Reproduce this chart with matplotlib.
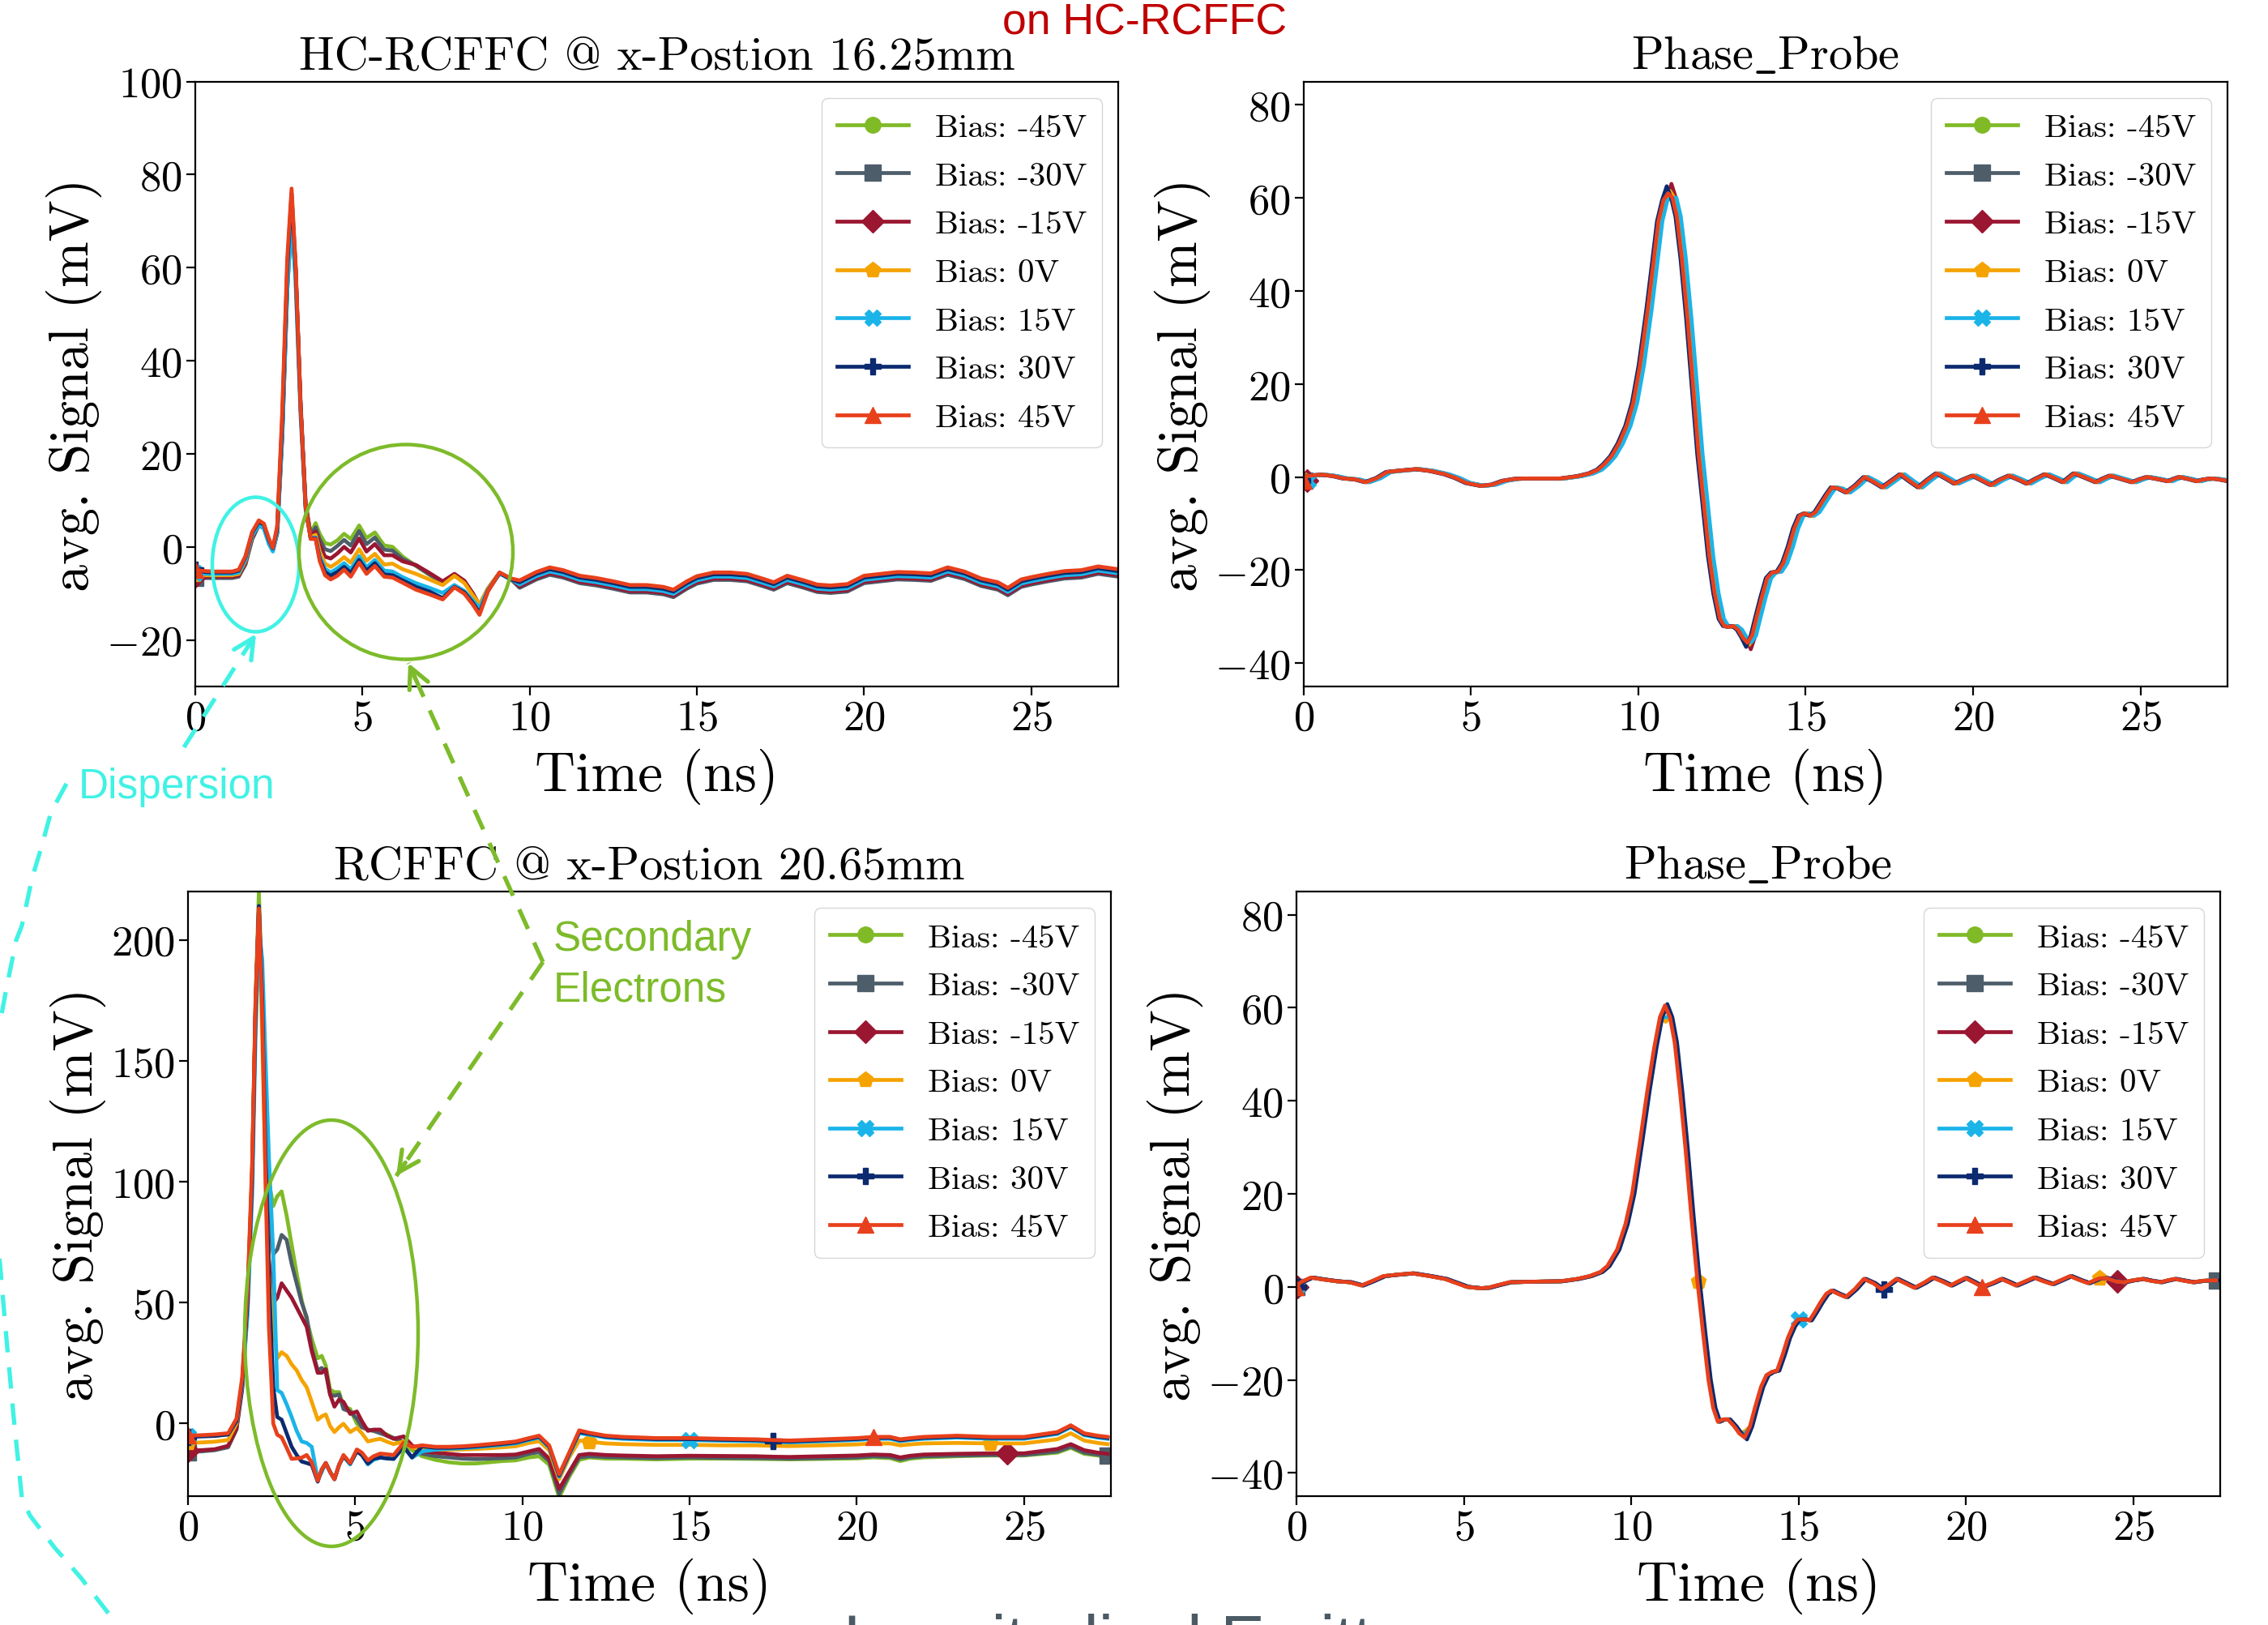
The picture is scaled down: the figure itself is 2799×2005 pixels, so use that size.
import numpy as np
import matplotlib
matplotlib.use('Agg')
import matplotlib.pyplot as plt
from matplotlib.patches import Ellipse

plt.rcParams['font.family'] = 'serif'
plt.rcParams['font.serif'] = ['cmr10']
plt.rcParams['mathtext.fontset'] = 'cm'
plt.rcParams['axes.formatter.use_mathtext'] = True

# ---------------- data ----------------
labels = ['Bias: -45V', 'Bias: -30V', 'Bias: -15V', 'Bias: 0V', 'Bias: 15V', 'Bias: 30V', 'Bias: 45V']
colors = ['#80BA27', '#4D5D6A', '#9A1631', '#F5A300', '#1AB4E8', '#0B2A6F', '#E8401C']
markers = ['o', 's', 'D', 'p', 'X', 'P', '^']

# Top-left: HC-RCFFC @ 16.25 mm
t_tl_early = [0, 0.3, 0.6, 0.9, 1.1, 1.3, 1.5, 1.7, 1.9, 2.05, 2.2, 2.32, 2.45, 2.6, 2.75, 2.88, 3.0, 3.15,
              3.3, 3.45, 3.6, 3.72, 3.88, 4.05, 4.25, 4.45, 4.65, 4.9, 5.12, 5.37, 5.65, 5.9, 6.2, 6.6, 7.0,
              7.4, 7.75, 8.05, 8.3, 8.5, 8.75, 9.1, 9.45]
tl_m45 = [-6.4, -6.5, -6.5, -6.5, -6.5, -6.2, -3.6, 1.8, 4.8, 4.2, 1.2, -0.6, 3.0, 24, 56, 70, 58, 30, 9, 3.0,
          5.1, 2.8, 0.8, 0.5, 1.4, 2.8, 1.7, 4.6, 1.9, 3.1, 0.3, 0.0, -2.1, -4.1, -6.0, -7.8, -6.2, -7.6, -10.0,
          -12.5, -9.0, -5.6, -7.0]
tl_m30 = [-6.6, -6.7, -6.7, -6.7, -6.7, -6.4, -3.8, 1.6, 4.6, 4.0, 1.0, -0.8, 2.8, 23, 55, 72, 60, 31, 9.5, 2.6,
          4.2, 1.6, -0.5, -0.9, 0.2, 1.5, 0.3, 3.4, 0.6, 2.0, -0.6, -0.8, -2.6, -4.0, -5.9, -7.6, -5.9, -7.4,
          -10.0, -12.6, -9.0, -5.6, -7.0]
tl_m15 = [-6.3, -6.4, -6.4, -6.4, -6.4, -6.1, -3.4, 2.0, 5.0, 4.4, 1.3, -0.5, 3.2, 25, 57, 74, 60, 30, 9.0, 2.3,
          3.3, 0.5, -2.1, -2.5, -1.4, 0.0, -1.2, 1.8, -1.0, 0.6, -1.8, -1.8, -3.1, -3.9, -5.6, -7.4, -5.8, -7.3,
          -10.0, -12.6, -9.0, -5.6, -7.0]
tl_0 = [-6.0, -6.1, -6.1, -6.1, -6.1, -5.8, -3.0, 2.4, 5.2, 4.6, 1.4, -0.4, 3.6, 26, 58, 74, 59, 29, 8.5, 2.1,
        2.6, -1.0, -3.6, -4.3, -3.4, -2.2, -3.4, -0.5, -3.0, -1.5, -3.8, -3.6, -4.8, -5.8, -7.0, -8.2, -6.2, -7.8,
        -10.4, -12.3, -9.0, -5.6, -7.0]
tl_p15 = [-5.6, -5.8, -5.8, -5.8, -5.8, -5.5, -2.8, 2.5, 4.6, 4.0, 0.6, -1.0, 3.2, 24, 55, 70, 57, 28, 8.0, 1.9,
          2.0, -2.0, -4.7, -5.5, -4.6, -3.5, -4.8, -2.0, -4.4, -2.8, -5.1, -5.3, -6.5, -7.8, -8.8, -9.9, -8.2,
          -9.5, -11.5, -13.1, -9.3, -5.8, -7.0]
tl_p30 = [-5.0, -5.4, -5.5, -5.5, -5.5, -5.1, -2.2, 3.0, 5.4, 4.8, 1.5, -0.3, 4.0, 27, 60, 76, 60, 30, 8.5, 1.8,
          1.8, -2.6, -5.4, -6.2, -5.4, -4.3, -5.6, -2.8, -5.1, -3.5, -5.9, -6.1, -7.2, -8.6, -9.6, -11.0, -8.6,
          -9.8, -12.0, -14.2, -9.5, -5.6, -7.0]
tl_p45 = [-5.0, -5.2, -5.3, -5.3, -5.3, -4.9, -2.0, 3.2, 5.7, 5.0, 1.8, -0.2, 4.5, 29, 62, 77, 61, 30, 8.5, 1.7,
          1.7, -3.0, -6.1, -7.0, -6.2, -4.9, -6.4, -3.4, -5.8, -4.1, -6.4, -6.6, -7.7, -9.2, -10.2, -11.3, -8.7,
          -10.1, -12.4, -14.6, -9.6, -5.5, -6.8]
t_tl_tail = [9.7, 10.2, 10.6, 11.0, 11.5, 12.0, 12.5, 13.0, 13.5, 14.0, 14.3, 14.7, 15.0, 15.5, 16.0, 16.5,
             17.0, 17.3, 17.7, 18.2, 18.6, 19.0, 19.5, 20.0, 20.5, 21.0, 21.5, 22.0, 22.5, 23.0, 23.5, 24.0,
             24.3, 24.7, 25.0, 25.5, 26.0, 26.5, 27.0, 27.6]
tl_tail = [-7.8, -6.0, -5.0, -5.6, -6.8, -7.3, -8.0, -8.8, -8.8, -9.2, -9.8, -8.0, -6.9, -6.1, -6.1, -6.4,
           -7.5, -8.2, -6.8, -7.8, -8.7, -8.9, -8.6, -6.8, -6.4, -6.0, -6.1, -6.3, -5.0, -5.9, -7.4, -8.2,
           -9.4, -7.6, -7.1, -6.4, -5.8, -5.6, -4.8, -5.4]
tl_tail_offset = [-0.8, -1.0, -0.7, 0.0, -0.3, 0.2, 0.6]

# Bottom-left: RCFFC @ 20.65 mm
t_bl_early = [0, 0.4, 0.8, 1.2, 1.45, 1.62, 1.78, 1.92, 2.02, 2.12, 2.22, 2.32, 2.42, 2.55, 2.67, 2.8, 2.95,
              3.1, 3.25, 3.4, 3.55, 3.7, 3.88, 4.0, 4.12, 4.25, 4.38, 4.52, 4.65, 4.85, 5.05, 5.2, 5.38, 5.55,
              5.75, 5.95, 6.15, 6.45, 6.7]
bl_m45_e = [-11.5, -11.2, -10.8, -9.5, -2.0, 15, 50, 105, 175, 220, 178, 130, 100, 90, 94, 96, 86, 74, 62, 51,
            43, 35, 27, 28, 24, 14, 13, 13, 7, 6, 0, -1.5, -2.5, -3.0, -3.5, -4.5, -6.0, -8.5, -11.0]
bl_m30_e = [-11.8, -11.5, -11.0, -9.8, -2.5, 14, 48, 102, 172, 214, 172, 122, 85, 70, 72, 78, 76, 66, 58, 50,
            44, 31, 22, 23, 21, 12, 11.5, 12, 6, 5, 2, -1.5, -2.5, -3.0, -4.0, -5.0, -6.0, -7.5, -9.5]
bl_m15_e = [-11.2, -11.0, -10.6, -9.2, -2.0, 15, 50, 104, 172, 212, 168, 112, 68, 50, 52, 58, 55, 52, 48, 44,
            40, 30, 21, 21, 22.5, 12, 7, 10, 9, 4, 5, 1, -3, -2.5, -2.5, -5, -6.3, -5.3, -9]
bl_0_e = [-8.0, -7.8, -7.5, -6.8, 0, 17, 52, 106, 172, 212, 160, 100, 62, 40, 27, 29.5, 28, 24.5, 22, 18, 15,
          9, 1.6, 3.0, 3.8, -1, -3.5, -1.5, -0.1, -3.5, -1.8, -4.0, -7.4, -6.8, -6.3, -7.5, -8.5, -7.4, -10]
bl_p15_e = [-5.3, -5.1, -5.0, -4.5, 1, 16, 45, 95, 160, 205, 192, 150, 110, 70, 13.8, 12.7, 8, 2.7, -3, -7.4,
            -8, -9.6, -23, -20, -16.3, -20, -23, -17, -13.5, -16.9, -11.3, -13, -16.9, -15, -14.1, -14.4, -14.6,
            -9.6, -14.1]
bl_p30_e = [-5.5, -5.3, -5.1, -4.5, 1, 17, 50, 102, 170, 214, 175, 110, 60, 15, 2.7, 1.6, -4, -9.6, -13, -15.7,
            -16.3, -17, -24, -19, -16.3, -20, -23, -17, -13.5, -16.5, -11.5, -13, -16.5, -14.5, -14, -14.4, -14.6,
            -9.6, -14]
bl_p45_e = [-5.0, -4.8, -4.5, -4.0, 2, 19, 54, 108, 175, 213, 170, 100, 40, 0, -4.6, -5.7, -10, -14.6, -14.4,
            -14.1, -13, -16, -23.6, -19, -16.3, -20, -23, -17, -13, -16.3, -10.7, -12, -15.2, -13.5, -12.4,
            -12.7, -13, -7.9, -9.6]
t_bl_tail = [7.0, 7.4, 7.8, 8.2, 8.6, 9.0, 9.4, 9.8, 10.2, 10.5, 10.8, 11.1, 11.4, 11.7, 12.0, 12.5, 13.0,
             14.0, 15.0, 16.0, 17.0, 17.5, 18.0, 19.0, 20.0, 20.5, 21.0, 21.3, 21.6, 22.0, 23.0, 24.0, 24.5,
             25.0, 26.0, 26.4, 26.8, 27.2, 27.5]
bl_m45_t = [-13.5, -15.0, -16.0, -16.5, -16.5, -16.0, -15.5, -15.2, -14.0, -13.5, -17.0, -30.5, -22.0, -15.0,
            -14.0, -14.5, -14.5, -14.8, -14.5, -14.5, -14.6, -14.7, -14.8, -14.6, -14.4, -14.0, -14.3, -15.5,
            -14.5, -14.0, -13.5, -13.2, -13.2, -13.2, -12.0, -10.0, -12.5, -13.2, -13.8]
bl_m30_t = [-12.5, -13.5, -14.0, -14.5, -14.7, -14.5, -14.3, -14.0, -12.5, -11.8, -15.5, -29.0, -21.0, -14.0,
            -13.5, -13.8, -14.0, -14.3, -14.0, -14.2, -14.3, -14.4, -14.5, -14.3, -14.0, -13.5, -13.8, -14.8,
            -14.0, -13.5, -13.2, -13.0, -13.0, -13.0, -11.5, -9.5, -12.0, -12.8, -13.3]
bl_m15_t = [-11.5, -12.0, -12.5, -13.0, -13.0, -13.0, -13.0, -12.8, -11.5, -10.5, -14.5, -27.0, -20.0, -13.0,
            -12.5, -13.0, -13.2, -13.5, -13.3, -13.4, -13.5, -13.7, -13.8, -13.5, -13.2, -12.8, -13.0, -14.0,
            -13.3, -12.8, -12.5, -12.3, -12.3, -12.3, -10.5, -8.5, -11.0, -12.0, -12.5]
bl_0_t = [-10.5, -10.8, -10.8, -10.7, -10.5, -10.2, -9.8, -9.4, -8.0, -7.3, -11.0, -23.0, -14.0, -7.0, -7.5,
          -8.2, -8.5, -8.8, -8.8, -9.0, -9.0, -9.2, -9.3, -9.0, -8.6, -8.2, -8.2, -9.0, -8.6, -8.2, -8.0, -8.2,
          -8.2, -8.2, -6.5, -4.0, -7.0, -8.0, -8.5]
bl_p15_t = [-11.5, -10.8, -10.4, -10.2, -9.8, -9.3, -8.8, -8.2, -6.8, -5.8, -9.8, -22.0, -13.0, -4.0, -4.6,
            -5.8, -6.3, -6.8, -6.8, -7.1, -7.3, -7.6, -7.8, -7.3, -6.8, -6.3, -6.3, -7.3, -6.8, -6.3, -5.8, -6.3,
            -6.3, -6.3, -4.3, -1.5, -4.8, -5.8, -6.3]
bl_p30_t = [-9.4, -10.0, -10.0, -9.8, -9.4, -8.9, -8.4, -7.8, -6.4, -5.4, -9.4, -21.5, -12.5, -3.5, -4.2, -5.4,
            -5.9, -6.4, -6.4, -6.7, -6.9, -7.2, -7.4, -6.9, -6.4, -5.9, -5.9, -6.9, -6.4, -5.9, -5.4, -5.9, -5.9,
            -5.9, -3.9, -1.1, -4.4, -5.4, -5.9]
bl_p45_t = [-9.0, -9.6, -9.6, -9.4, -9.0, -8.5, -8.0, -7.4, -6.0, -5.0, -9.0, -21.0, -12.0, -2.8, -3.8, -5.0,
            -5.5, -6.0, -6.0, -6.3, -6.5, -6.8, -7.0, -6.5, -6.0, -5.5, -5.5, -6.5, -6.0, -5.5, -5.0, -5.5, -5.5,
            -5.5, -3.5, -0.7, -4.0, -5.0, -5.5]

# Top-right: Phase_Probe (reference waveform, per-bias small shifts / extrema)
t_tr = [0, 0.1, 0.3, 0.56, 0.9, 1.2, 1.55, 1.86, 2.2, 2.5, 2.9, 3.37, 3.8, 4.23, 4.55, 4.88, 5.31, 5.65, 5.96,
        6.3, 6.61, 7.2, 7.69, 8.2, 8.55, 8.8, 8.99, 9.2, 9.42, 9.65, 9.85, 10.05, 10.28, 10.45, 10.6, 10.75,
        10.89, 11.02, 11.15, 11.3, 11.47, 11.63, 11.8, 11.96, 12.12, 12.28, 12.44, 12.57, 12.7, 12.84, 12.98,
        13.12, 13.26, 13.4, 13.52, 13.68, 13.85, 14.0, 14.17, 14.33, 14.5, 14.66, 14.82, 14.98, 15.14, 15.3,
        15.47, 15.63, 15.79, 16.0, 16.22, 16.5, 16.76, 17.03, 17.3, 17.57, 17.84, 18.1, 18.38, 18.65, 18.92,
        19.2, 19.46, 19.73, 20.0, 20.27, 20.54, 20.8, 21.08, 21.35, 21.62, 21.9, 22.16, 22.43, 22.7, 22.87,
        23.03, 23.35, 23.68, 23.9, 24.1, 24.43, 24.76, 24.98, 25.19, 25.5, 25.84, 26.0, 26.16, 26.43, 26.7,
        26.9, 27.13, 27.35, 27.57]
v_tr = [-0.8, 0.2, 0.4, 0.5, 0.2, -0.3, -0.5, -1.1, -0.2, 1.1, 1.4, 1.7, 1.3, 0.6, -0.2, -1.3, -1.9, -1.6,
        -0.8, -0.4, -0.3, -0.3, -0.3, 0.2, 0.8, 1.6, 2.8, 4.5, 7.2, 11, 16, 24, 36, 46, 55, 59.5, 61, 60, 56,
        47, 34, 20, 5, -6, -17, -25, -30.5, -32, -32.2, -32, -32.8, -34.5, -35.6, -34, -30.5, -26, -21.7,
        -20.5, -20.3, -18.5, -15, -11, -8.3, -7.8, -8.3, -7.5, -5.6, -3.8, -2.2, -2.5, -3.3, -1.8, 0, -1.0,
        -2.2, -0.8, 0.6, -0.8, -2.2, -0.6, 0.8, -0.3, -1.4, -0.5, 0.3, -0.7, -1.7, -0.6, 0.3, -0.5, -1.4,
        -0.3, 0.6, -0.2, -1.1, -0.1, 0.8, -0.1, -1.1, -0.3, 0.3, -0.4, -1.1, -0.5, 0.0, -0.4, -0.9, -0.4,
        0.0, -0.4, -0.9, -0.5, -0.3, -0.5, -0.8]
tr_shift = [0.05, 0.02, 0.10, 0.06, 0.12, -0.04, 0.0]
tr_peak = [61.5, 62, 63, 61.5, 60, 62.5, 61]
tr_trough = [-36, -36, -37, -36, -35.5, -36.5, -35.6]

# Bottom-right: Phase_Probe
t_br = [0, 0.15, 0.45, 0.8, 1.21, 1.6, 1.96, 2.3, 2.61, 3.0, 3.48, 4.0, 4.45, 4.8, 5.1, 5.5, 5.74, 6.0, 6.39,
        7.0, 7.9, 8.4, 8.77, 9.1, 9.31, 9.6, 9.85, 10.05, 10.28, 10.5, 10.71, 10.88, 11.03, 11.18, 11.32,
        11.48, 11.64, 11.82, 12.0, 12.17, 12.33, 12.47, 12.61, 12.76, 12.91, 13.1, 13.25, 13.41, 13.57, 13.73,
        13.9, 14.06, 14.22, 14.38, 14.55, 14.7, 14.87, 15.0, 15.2, 15.35, 15.5, 15.68, 15.85, 16.0, 16.2,
        16.43, 16.7, 16.97, 17.25, 17.5, 17.72, 17.94, 18.2, 18.48, 18.75, 19.02, 19.3, 19.56, 19.8, 20.0,
        20.25, 20.5, 20.8, 21.07, 21.3, 21.51, 21.8, 22.05, 22.3, 22.59, 22.85, 23.13, 23.4, 23.67, 24.0,
        24.21, 24.5, 24.75, 25.0, 25.29, 25.55, 25.83, 26.05, 26.26, 26.55, 26.8, 27.1, 27.5]
v_br = [0.0, 1.0, 2.0, 1.6, 1.2, 1.0, 0.3, 1.3, 2.3, 2.6, 2.9, 2.3, 1.7, 0.8, 0.0, -0.3, -0.2, 0.3, 1.0, 1.1,
        1.2, 1.7, 2.3, 3.2, 4.5, 8.0, 13.5, 20, 31, 42, 51.5, 58, 60.5, 58, 52.6, 42, 30, 15, 1.2, -10, -20,
        -26, -29, -28.5, -28.5, -30, -31.5, -32.4, -30, -25.7, -21.5, -19, -18.3, -18, -14.5, -11, -8.2, -7.0,
        -7.0, -7.2, -5.5, -3.3, -1.5, -0.8, -1.5, -2.2, -0.5, 1.7, 0.8, -0.5, 0.5, 1.7, 0.8, -0.2, 0.8, 2.0,
        1.2, 0.3, 1.2, 1.9, 1.0, 0.0, 0.8, 1.7, 1.0, 0.3, 1.2, 2.0, 1.3, 0.6, 1.4, 2.3, 1.5, 0.8, 1.8, 1.9,
        1.2, 1.0, 1.4, 1.7, 1.3, 1.0, 1.4, 1.7, 1.3, 1.0, 1.3, 1.4]
br_shift = [0.0, 0.0, 0.03, 0.0, 0.0, 0.05, -0.02]
br_peak = [59.5, 60, 60, 57, 58, 60.8, 60.5]
br_trough = [-32, -32, -32.5, -31, -31.5, -32.8, -32.4]

# marker positions (ns) per bias
marks_top = [[0]] * 7
marks_bottom = [[0], [0, 27.5], [0, 24.5], [0, 12, 24], [0, 15], [0, 17.5], [0, 20.5]]

# ---------------- assemble series ----------------
tl_early = [tl_m45, tl_m30, tl_m15, tl_0, tl_p15, tl_p30, tl_p45]
TL_t = [np.array(t_tl_early + t_tl_tail)] * 7
TL_y = [np.array(tl_early[k] + [v + tl_tail_offset[k] for v in tl_tail]) for k in range(7)]

bl_e = [bl_m45_e, bl_m30_e, bl_m15_e, bl_0_e, bl_p15_e, bl_p30_e, bl_p45_e]
bl_t = [bl_m45_t, bl_m30_t, bl_m15_t, bl_0_t, bl_p15_t, bl_p30_t, bl_p45_t]
BL_t = [np.array(t_bl_early + t_bl_tail)] * 7
BL_y = [np.array(bl_e[k] + bl_t[k]) for k in range(7)]


def probe(tb, vb, shifts, peaks, troughs):
    tb = np.array(tb); vb = np.array(vb)
    ip = int(np.argmax(vb)); it = int(np.argmin(vb))
    ts, ys = [], []
    for k in range(7):
        y = vb.copy(); y[ip] = peaks[k]; y[it] = troughs[k]
        ts.append(tb + shifts[k]); ys.append(y)
    return ts, ys


TR_t, TR_y = probe(t_tr, v_tr, tr_shift, tr_peak, tr_trough)
BR_t, BR_y = probe(t_br, v_br, br_shift, br_peak, br_trough)

# ---------------- figure ----------------
W, H = 2799, 2006
fig = plt.figure(figsize=(W / 100, H / 100), dpi=100)


def add_axes(l, t, r, b):
    return fig.add_axes([l / W, 1 - b / H, (r - l) / W, (b - t) / H])


def draw(ax, ts, ys, marks, title, ylim, yticks):
    for k in range(7):
        t = ts[k]
        idx = [int(np.argmin(np.abs(t - m))) for m in marks[k]]
        ax.plot(t, ys[k], color=colors[k], lw=3.4, marker=markers[k], markersize=14,
                markevery=idx, label=labels[k])
    ax.set_xlim(0, 27.6)
    ax.set_ylim(*ylim)
    ax.set_xticks([0, 5, 10, 15, 20, 25])
    ax.set_yticks(yticks)
    ax.set_title(title, fontsize=42, pad=12)
    ax.set_xlabel('Time (ns)', fontsize=50, labelpad=9)
    ax.set_ylabel('avg. Signal (mV)', fontsize=49)
    ax.tick_params(labelsize=38, width=1.6, length=8)
    for s in ax.spines.values():
        s.set_linewidth(1.6)
    ax.legend(loc='upper right', fontsize=29.5, labelspacing=0.56, handlelength=2.15,
              borderaxespad=0.5, borderpad=0.45)


ax_tl = add_axes(241, 101.6, 1380, 848)
ax_tr = add_axes(1608.7, 101.6, 2749, 848)
ax_bl = add_axes(232, 1101, 1371, 1847)
ax_br = add_axes(1600, 1101, 2740, 1847)

probe_title = r'$\mathrm{Phase\_Probe}$'
draw(ax_tl, TL_t, TL_y, marks_top, 'HC-RCFFC @ x-Postion 16.25mm', (-30, 100), [-20, 0, 20, 40, 60, 80, 100])
draw(ax_tr, TR_t, TR_y, marks_top, probe_title, (-45, 85), [-40, -20, 0, 20, 40, 60, 80])
draw(ax_bl, BL_t, BL_y, marks_bottom, 'RCFFC @ x-Postion 20.65mm', (-30, 220), [0, 50, 100, 150, 200])
draw(ax_br, BR_t, BR_y, marks_bottom, probe_title, (-45, 85), [-40, -20, 0, 20, 40, 60, 80])

# ---------------- slide overlay annotations ----------------
cyan = '#40F2E4'
green = '#7DBB2A'
ov = fig.add_axes([0, 0, 1, 1], zorder=10)
ov.set_xlim(0, W)
ov.set_ylim(H, 0)
ov.axis('off')
ov.patch.set_alpha(0)

ov.add_patch(Ellipse((315.5, 697.5), 107, 166, fill=False, ec=cyan, lw=3.2))
ov.add_patch(Ellipse((501, 682), 264, 265, fill=False, ec=green, lw=3.2))
ov.add_patch(Ellipse((409, 1646), 214, 526, fill=False, ec=green, lw=3.2))


def dashed_arrow(p0, p1, color):
    ov.plot([p0[0], p1[0]], [p0[1], p1[1]], color=color, lw=3.8, dashes=(5, 3.5), solid_capstyle='butt')
    d = np.array(p1, float) - np.array(p0, float)
    d /= np.hypot(*d)
    start = np.array(p1) - d * 20
    ov.annotate('', xy=p1, xytext=tuple(start),
                arrowprops=dict(arrowstyle='->', color=color, lw=3.8, mutation_scale=45,
                                shrinkA=0, shrinkB=0))


dashed_arrow((227, 923), (316, 783), cyan)
dashed_arrow((670, 1188), (504, 819), green)
dashed_arrow((670, 1188), (489, 1452), green)

cx = [82, 63, 50, 40, 27, 20, 8, -5, -15, -10, 0, 7, 17, 27, 37, 67, 100, 145]
cy = [968, 1003, 1050, 1083, 1143, 1161, 1220, 1290, 1400, 1500, 1560, 1642, 1751, 1849, 1871, 1910, 1948, 2006]
ov.plot(cx, cy, color=cyan, lw=3.8, dashes=(5, 3.5), clip_on=False)

sans = ['Liberation Sans', 'DejaVu Sans']
ov.text(97, 985, 'Dispersion', color=cyan, fontsize=37, family=sans, ha='left', va='baseline')
ov.text(683, 1173, 'Secondary', color=green, fontsize=37, family=sans, ha='left', va='baseline')
ov.text(683, 1236, 'Electrons', color=green, fontsize=37, family=sans, ha='left', va='baseline')
ov.text(1237, 42, 'on HC-RCFFC', color='#C00000', fontsize=38.5, family=sans, ha='left', va='baseline')
ov.text(1041, 2050, 'Longitudinal Emitt', color='#4B5A65', fontsize=59, family=sans, ha='left',
        va='baseline')

fig.savefig('out.png', dpi=100)
